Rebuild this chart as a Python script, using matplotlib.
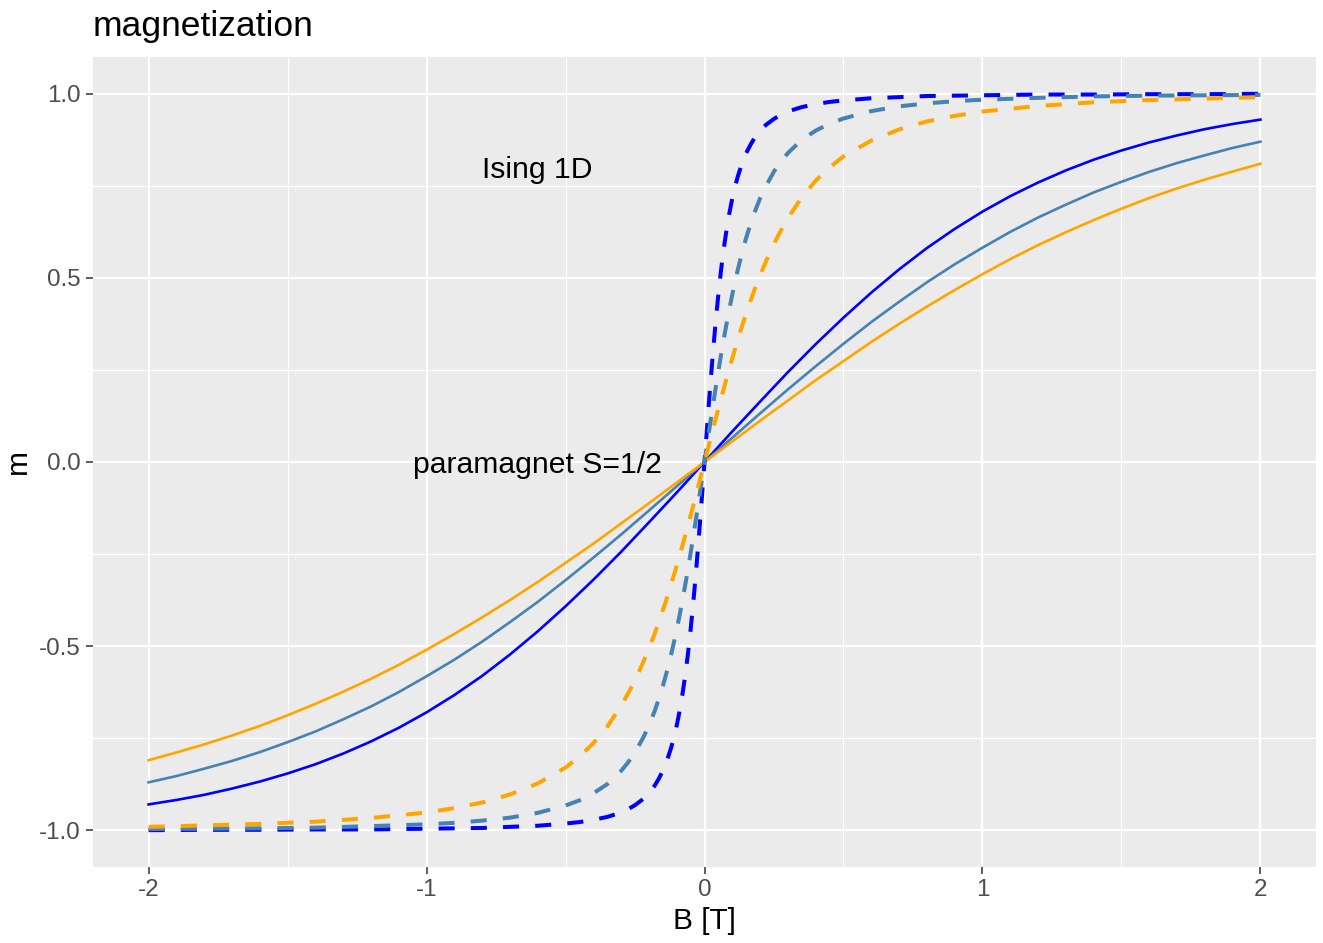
import matplotlib
matplotlib.use("Agg")
import matplotlib.pyplot as plt
import numpy as np

plt.rcParams["font.family"] = ["Liberation Sans", "DejaVu Sans"]

# field values, positive half only (both models give m(-B) = -m(B))
b_para = [0.0, 0.1, 0.2, 0.3, 0.4, 0.5, 0.6, 0.7, 0.8, 0.9, 1.0,
          1.1, 1.2, 1.3, 1.4, 1.5, 1.6, 1.7, 1.8, 1.9, 2.0]
b_ising = [0.0, 0.01, 0.02, 0.03, 0.04, 0.05, 0.06, 0.07, 0.08, 0.09, 0.1, 0.11,
           0.12, 0.135, 0.15, 0.165, 0.18, 0.2, 0.22, 0.25, 0.275, 0.3, 0.35, 0.4,
           0.45, 0.5, 0.6, 0.7, 0.8, 0.9, 1.0, 1.2, 1.4, 1.6, 1.8, 2.0]

# paramagnet S=1/2
para_blue = [0.0, 0.083, 0.164, 0.244, 0.320, 0.392, 0.460, 0.523, 0.581, 0.633, 0.680,
             0.722, 0.759, 0.792, 0.821, 0.846, 0.868, 0.887, 0.904, 0.918, 0.930]
para_steel = [0.0, 0.066, 0.132, 0.197, 0.260, 0.321, 0.380, 0.435, 0.488, 0.537, 0.582,
              0.625, 0.664, 0.699, 0.732, 0.761, 0.788, 0.812, 0.833, 0.853, 0.870]
para_orange = [0.0, 0.056, 0.112, 0.167, 0.222, 0.274, 0.326, 0.375, 0.422, 0.467, 0.510,
               0.551, 0.589, 0.624, 0.657, 0.688, 0.717, 0.743, 0.767, 0.789, 0.810]

# Ising 1D
ising_blue = [0.0, 0.102, 0.201, 0.294, 0.379, 0.456, 0.524, 0.583, 0.634, 0.678, 0.716, 0.748,
              0.776, 0.811, 0.839, 0.861, 0.880, 0.899, 0.915, 0.932, 0.943, 0.952, 0.964, 0.972,
              0.978, 0.982, 0.988, 0.991, 0.994, 0.995, 0.996, 0.998, 0.998, 0.999, 0.999, 1.0]
ising_steel = [0.0, 0.051, 0.102, 0.152, 0.200, 0.248, 0.293, 0.337, 0.378, 0.418, 0.455, 0.490,
               0.523, 0.568, 0.609, 0.645, 0.678, 0.716, 0.748, 0.789, 0.816, 0.839, 0.875, 0.900,
               0.919, 0.933, 0.953, 0.966, 0.974, 0.980, 0.984, 0.989, 0.993, 0.995, 0.996, 0.997]
ising_orange = [0.0, 0.029, 0.059, 0.088, 0.117, 0.145, 0.173, 0.201, 0.229, 0.255, 0.282, 0.307,
                0.332, 0.369, 0.403, 0.436, 0.468, 0.507, 0.543, 0.593, 0.629, 0.662, 0.719, 0.764,
                0.800, 0.830, 0.873, 0.903, 0.925, 0.940, 0.952, 0.967, 0.977, 0.983, 0.987, 0.991]

colors = ["blue", "steelblue", "orange"]


def odd_extend(vals):
    v = np.asarray(vals, dtype=float)
    return np.concatenate([-v[:0:-1], v])


fig = plt.figure(figsize=(13.23, 9.43), dpi=100)
ax = fig.add_axes([93 / 1323, 76 / 943, 1223 / 1323, 810 / 943])
ax.set_facecolor("#EBEBEB")
for s in ax.spines.values():
    s.set_visible(False)

ax.set_xlim(-2.2, 2.2)
ax.set_ylim(-1.1, 1.1)
ax.set_xticks([-2, -1, 0, 1, 2])
ax.set_xticklabels(["-2", "-1", "0", "1", "2"])
ax.set_yticks([-1.0, -0.5, 0.0, 0.5, 1.0])
ax.set_yticklabels(["-1.0", "-0.5", "0.0", "0.5", "1.0"])
ax.set_xticks([-1.5, -0.5, 0.5, 1.5], minor=True)
ax.set_yticks([-0.75, -0.25, 0.25, 0.75], minor=True)
ax.grid(which="major", color="white", lw=1.6)
ax.grid(which="minor", color="white", lw=0.8)
ax.set_axisbelow(True)
ax.tick_params(which="major", length=5, width=1.1, color="#333333",
               labelsize=17.4, labelcolor="#4D4D4D", pad=4)
ax.tick_params(which="minor", length=0)

bp = odd_extend(b_para)
for vals, c in zip([para_blue, para_steel, para_orange], colors):
    ax.plot(bp, odd_extend(vals), color=c, lw=1.9)

bi = odd_extend(b_ising)
for vals, c in zip([ising_blue, ising_steel, ising_orange], colors):
    ax.plot(bi, odd_extend(vals), color=c, lw=2.9, dashes=(4, 4),
            dash_capstyle="butt")

ax.text(-0.6, 0.8, "Ising 1D", ha="center", va="center_baseline", fontsize=21.7)
ax.text(-0.6, 0.0, "paramagnet S=1/2", ha="center", va="center_baseline", fontsize=21.7)

ax.set_xlabel("B [T]", fontsize=21.5, labelpad=4)
ax.set_ylabel("m", fontsize=21.5, labelpad=5)
ax.set_title("magnetization", loc="left", fontsize=25.5, pad=15)

fig.savefig("out.png", dpi=100)
